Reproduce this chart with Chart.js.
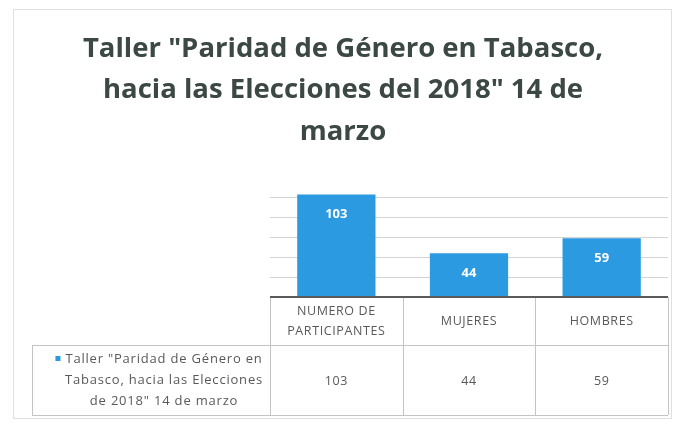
<!DOCTYPE html>
<html><head><meta charset="utf-8">
<script src="https://cdn.jsdelivr.net/npm/chart.js@4/dist/chart.umd.min.js"></script>
<style>
html,body{margin:0;padding:0;background:#fff;}
#wrap{position:relative;width:676px;height:425px;}
canvas{display:block;}
</style></head><body>
<div id="wrap"><canvas id="c" width="676" height="425"></canvas></div>
<script>
const titleLines = ['Taller "Paridad de Género en Tabasco,', 'hacia las Elecciones del 2018" 14 de', 'marzo'];
const categories = [['NUMERO DE','PARTICIPANTES'], ['MUJERES'], ['HOMBRES']];
const seriesName = ['Taller "Paridad de Género en', 'Tabasco, hacia las Elecciones', 'de 2018" 14 de marzo'];
const values = [103, 44, 59];
const yMax = 120, yStep = 20;

const BLUE = '#2c9ae0';
const TXT = '#595959';
const FONT = '"Open Sans", sans-serif';

const framePlugin = {
  id: 'framePlugin',
  beforeDraw(chart) {
    const ctx = chart.ctx;
    ctx.save();
    ctx.strokeStyle = '#e0e0e0';
    ctx.lineWidth = 1;
    ctx.strokeRect(13.5, 9.5, 658, 409);
    ctx.restore();
  }
};

const tablePlugin = {
  id: 'tablePlugin',
  afterDatasetsDraw(chart) {
    const ctx = chart.ctx;
    const ca = chart.chartArea;
    const meta = chart.getDatasetMeta(0);
    ctx.save();
    ctx.fillStyle = '#ffffff';
    ctx.font = 'bold 13px ' + FONT;
    ctx.textAlign = 'center';
    ctx.textBaseline = 'middle';
    meta.data.forEach((bar, i) => {
      ctx.fillText(String(values[i]), bar.x, bar.y + 20);
    });
    ctx.restore();

    const x = chart.scales.x;
    const n = values.length;
    const colW = (ca.right - ca.left) / n;
    const tableLeft = 32;
    const headTop = ca.bottom, headBot = headTop + 48, rowBot = 415;
    ctx.save();
    ctx.strokeStyle = '#c4c4c4';
    ctx.lineWidth = 1;
    ctx.beginPath();
    for (let i = 0; i <= n; i++) {
      const xx = Math.round(ca.left + i * colW) + 0.5;
      ctx.moveTo(xx, headTop); ctx.lineTo(xx, rowBot);
    }
    ctx.moveTo(tableLeft + 0.5, headBot); ctx.lineTo(tableLeft + 0.5, rowBot);
    ctx.moveTo(tableLeft, headBot + 0.5); ctx.lineTo(ca.right, headBot + 0.5);
    ctx.moveTo(tableLeft, rowBot + 0.5); ctx.lineTo(ca.right, rowBot + 0.5);
    ctx.stroke();
    ctx.strokeStyle = '#5a5a5a';
    ctx.lineWidth = 2;
    ctx.beginPath();
    ctx.moveTo(ca.left, ca.bottom); ctx.lineTo(ca.right, ca.bottom);
    ctx.stroke();
    ctx.fillStyle = TXT;
    ctx.font = '12.5px ' + FONT;
    ctx.letterSpacing = '0.6px';
    ctx.textAlign = 'center';
    ctx.textBaseline = 'middle';
    categories.forEach((lines, i) => {
      const cx = x.getPixelForValue(i);
      const mid = (headTop + headBot) / 2;
      lines.forEach((l, j) => {
        ctx.fillText(l, cx, mid + (j - (lines.length - 1) / 2) * 20);
      });
      ctx.fillText(String(values[i]), cx, (headBot + rowBot) / 2 + 1);
    });
    ctx.font = '13px ' + FONT;
    ctx.letterSpacing = '0.8px';
    const lmid = (headBot + rowBot) / 2;
    const lcx = 164;
    seriesName.forEach((l, j) => {
      ctx.fillText(l, lcx, lmid + (j - 1) * 21);
    });
    ctx.fillStyle = BLUE;
    const w0 = ctx.measureText(seriesName[0]).width;
    ctx.fillRect(lcx - w0 / 2 - 10, lmid - 21 - 3, 5, 5);
    ctx.restore();
  }
};

new Chart(document.getElementById('c'), {
  type: 'bar',
  data: {
    labels: categories.map(c => c.join(' ')),
    datasets: [{ data: values, backgroundColor: BLUE, barPercentage: 0.59, categoryPercentage: 1 }]
  },
  options: {
    responsive: false,
    animation: false,
    layout: { padding: { left: 18, right: 8, top: 6, bottom: 128 } },
    plugins: {
      legend: { display: false },
      tooltip: { enabled: false },
      title: {
        display: true, text: titleLines, color: '#3b4843',
        font: { family: FONT, size: 27.5, weight: 'bold', lineHeight: 1.51 },
        padding: { top: 22, bottom: 25 }
      }
    },
    scales: {
      x: { display: false },
      y: {
        min: 0, max: yMax,
        afterFit(scale) { scale.width = 252; },
        ticks: { display: false, stepSize: yStep },
        border: { display: false },
        grid: { color: ctx => (ctx.tick && ctx.tick.value > 0 && ctx.tick.value < yMax) ? '#d4d4d4' : 'rgba(0,0,0,0)', drawTicks: false }
      }
    }
  },
  plugins: [framePlugin, tablePlugin]
});
</script>
</body></html>
